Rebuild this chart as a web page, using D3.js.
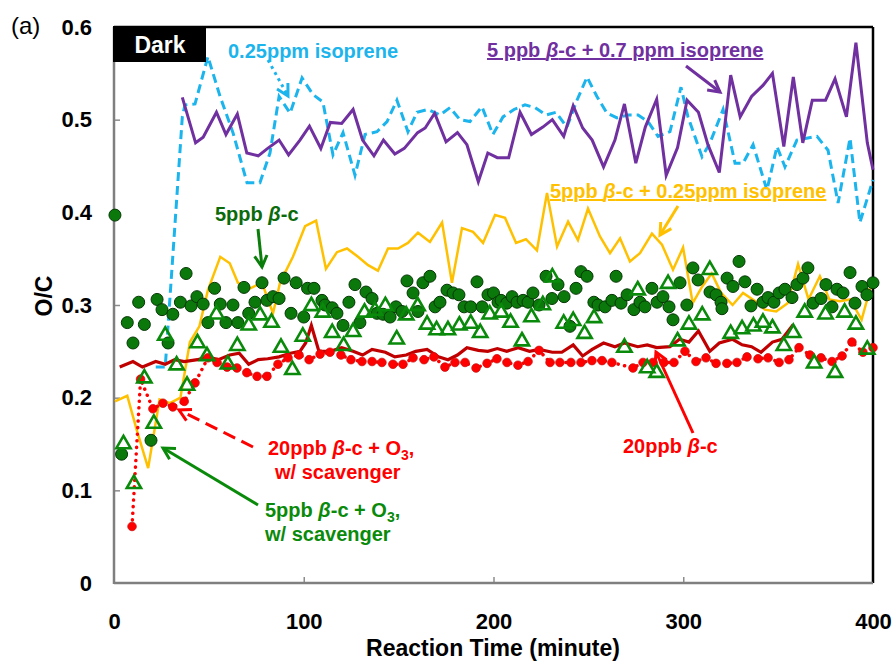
<!DOCTYPE html>
<html>
<head>
<meta charset="utf-8">
<script src="https://cdn.jsdelivr.net/npm/d3@7/dist/d3.min.js"></script>
<style>
  body { margin: 0; background: #fff; }
  text { font-family: "Liberation Sans", Arial, sans-serif; }
</style>
</head>
<body>
<div id="chart"></div>
<script>
// [minute, O/C]
const isoprene025 = [
  [22,0.233],[27,0.233],[36,0.503],[37.4,0.516],[42.7,0.517],[49.5,0.568],[55.9,0.525],[62.7,0.486],[70.1,0.432],[76.9,0.432],
  [82.2,0.464],[87,0.525],[92.8,0.507],[99.1,0.545],[104.9,0.527],[110.1,0.519],[115.4,0.462],[120.7,0.486],[127,0.440],[132.3,0.484],
  [138.6,0.487],[143.9,0.498],[149.1,0.521],[154.9,0.487],[159.7,0.508],[165.5,0.511],[171.8,0.505],[177.1,0.513],[182.3,0.500],[187.6,0.498],
  [193.9,0.514],[199.7,0.484],[205,0.503],[210.8,0.511],[216.6,0.516],[221.9,0.513],[227.7,0.505],[232.9,0.508],[238.7,0.492],[244,0.521],
  [249.3,0.546],[254.5,0.525],[259.8,0.507],[265.1,0.502],[270.9,0.505],[276.2,0.505],[281.4,0.498],[286.7,0.482],[293,0.487],[298.8,0.535],
  [302.5,0.503],[309.9,0.460],[314.1,0.475],[321,0.511],[327.3,0.453],[331.5,0.453],[336.8,0.473],[344.1,0.424],[349.4,0.471],[353.6,0.449],
  [359.9,0.478],[370.5,0.482],[376.3,0.467],[381.6,0.410],[387.9,0.480],[393.1,0.389],[400,0.435]
];
const bc5Iso07 = [
  [36,0.524],[43,0.475],[47,0.481],[54,0.508],[59,0.484],[65,0.506],[70,0.464],[76,0.461],[81,0.469],[87,0.478],
  [92,0.462],[98,0.478],[103,0.493],[109,0.469],[114,0.497],[120,0.496],[126,0.511],[131,0.478],[137,0.461],[142,0.478],
  [148,0.463],[153,0.469],[160,0.486],[164,0.491],[169,0.507],[175,0.476],[181,0.486],[186,0.473],[192,0.433],[197,0.464],
  [202,0.459],[208,0.459],[214,0.508],[220,0.484],[226,0.492],[231,0.500],[237,0.482],[242,0.515],[247,0.491],[252,0.478],
  [258,0.449],[264,0.478],[269,0.517],[275,0.453],[280,0.492],[286,0.522],[291,0.440],[297,0.470],[302,0.521],[308,0.508],
  [313,0.473],[319,0.443],[325,0.548],[330,0.503],[336,0.525],[342,0.537],[347,0.550],[353,0.471],[358,0.546],[363,0.475],
  [368,0.521],[375,0.521],[380,0.544],[386,0.503],[391,0.583],[397,0.475],[400,0.446]
];
const bc5Iso025 = [
  [0.5,0.196],[7,0.202],[12,0.165],[18,0.124],[24,0.198],[29.5,0.194],[35,0.200],[40,0.260],[45,0.277],[49.5,0.316],
  [56,0.352],[61,0.345],[65.3,0.324],[71.7,0.318],[78,0.324],[83.8,0.291],[87.5,0.324],[94.3,0.352],[100.7,0.385],[106.5,0.391],
  [111.7,0.339],[117.5,0.357],[122.8,0.361],[128.6,0.352],[133.9,0.343],[139.1,0.337],[144.4,0.361],[149.7,0.361],[154.9,0.367],[160.2,0.378],
  [166.5,0.368],[172.9,0.389],[178.1,0.324],[183.4,0.383],[189.2,0.379],[194.5,0.367],[200.8,0.397],[206.1,0.394],[211.9,0.367],[217.1,0.371],
  [222.9,0.359],[228.2,0.421],[233.5,0.363],[239.3,0.390],[244.5,0.370],[249.8,0.404],[256.1,0.374],[261.4,0.356],[266.7,0.372],[271.9,0.347],
  [277.2,0.356],[283.5,0.377],[288.8,0.365],[294.6,0.338],[299.9,0.362],[305,0.302],[310,0.320],[315,0.334],[320,0.313],[326,0.300],
  [331.5,0.313],[338,0.304],[343,0.295],[349,0.293],[355,0.302],[360.5,0.344],[366,0.306],[372,0.331],[377,0.306],[382.5,0.304],
  [388,0.306],[394,0.284],[400,0.329]
];
const bc20 = [
  [3,0.233],[10,0.239],[15,0.233],[22,0.239],[27,0.236],[32,0.241],[37,0.239],[44,0.241],[49,0.244],[55,0.241],
  [61,0.246],[66,0.248],[71,0.236],[76,0.241],[81,0.242],[87,0.244],[93,0.248],[98,0.250],[101,0.259],[104,0.278],
  [108,0.250],[114,0.250],[120,0.254],[126,0.250],[131,0.246],[136,0.252],[143,0.249],[148,0.244],[154,0.246],[159,0.250],
  [165,0.252],[171,0.244],[176,0.241],[181,0.246],[186,0.254],[192,0.251],[197,0.250],[202,0.253],[207,0.250],[213,0.254],
  [219,0.250],[224,0.252],[231,0.249],[236,0.249],[242,0.257],[247,0.245],[252,0.252],[258,0.259],[264,0.255],[269,0.259],
  [276,0.255],[281,0.257],[286,0.254],[293,0.255],[298,0.263],[303,0.260],[308,0.272],[314,0.250],[319,0.259],[326,0.263],
  [331,0.257],[336,0.255],[341,0.249],[347,0.260],[352,0.263],[358,0.279]
];
const bc20O3 = [
  [9.5,0.061],[14,0.220],[20.5,0.188],[25.8,0.194],[31,0.190],[37,0.196],[42.7,0.216],[49.5,0.243],[54.3,0.238],[59.6,0.233],
  [64.8,0.232],[70,0.227],[75.4,0.223],[80.6,0.223],[86.4,0.236],[91.7,0.243],[97.5,0.246],[102.8,0.241],[108.6,0.247],[113.8,0.249],
  [119.6,0.246],[124.9,0.241],[130.7,0.239],[136,0.239],[141.2,0.238],[147,0.236],[152.3,0.236],[157.6,0.243],[163.4,0.241],[168.6,0.244],
  [174.4,0.233],[179.7,0.238],[185,0.238],[190.8,0.232],[196.6,0.237],[201.8,0.242],[207.1,0.238],[212.9,0.235],[218.2,0.239],[224,0.251],
  [229.8,0.238],[235,0.238],[240.8,0.238],[246.1,0.238],[251.9,0.240],[257.2,0.240],[262.4,0.238],[273.5,0.232],[278.8,0.238],[284,0.238],
  [289.8,0.238],[295.1,0.238],[300.9,0.250],[306.7,0.239],[312,0.243],[317.3,0.237],[323,0.237],[328.3,0.238],[333.6,0.244],[339.4,0.242],
  [344.7,0.243],[350.5,0.238],[355.7,0.241],[361,0.254],[366.8,0.246],[372.6,0.243],[378.4,0.239],[383.7,0.245],[388.9,0.260],[394.7,0.249],
  [400,0.254]
];
const bc5 = [
  [0.5,0.397],[4,0.139],[7,0.281],[10,0.259],[13,0.303],[16,0.279],[19.5,0.154],[22.7,0.306],[25.3,0.295],[28.5,0.259],
  [31,0.290],[35,0.303],[38,0.334],[40.6,0.299],[43.7,0.309],[47,0.301],[49.5,0.281],[53,0.318],[56,0.301],[59,0.281],
  [62.7,0.300],[65.3,0.281],[68.5,0.319],[71,0.291],[74.3,0.303],[78,0.324],[80.6,0.305],[83.8,0.309],[87,0.307],[89.6,0.329],
  [93.3,0.291],[96,0.324],[100,0.287],[102,0.318],[105.4,0.318],[109.6,0.305],[111.2,0.300],[115,0.297],[117.5,0.291],[120.7,0.278],
  [123.8,0.303],[127,0.322],[129.6,0.281],[132.8,0.314],[136,0.307],[138.6,0.291],[141.8,0.290],[145.5,0.287],[148.6,0.298],[151.8,0.293],
  [154.4,0.326],[157.6,0.313],[160.2,0.293],[162.8,0.324],[166.5,0.331],[169.2,0.298],[171.8,0.303],[175.5,0.316],[178.7,0.313],[181.8,0.311],
  [184.5,0.298],[188,0.298],[191.3,0.325],[194,0.298],[197.1,0.311],[200,0.313],[202.4,0.303],[204,0.305],[207,0.302],[209.8,0.309],
  [212.4,0.303],[215.6,0.305],[218.2,0.303],[220.8,0.313],[224,0.300],[227.7,0.331],[230.8,0.307],[234,0.322],[237.2,0.309],[240.3,0.277],
  [243.5,0.318],[246.1,0.336],[249.3,0.331],[252.9,0.303],[255.1,0.300],[258.8,0.298],[262.4,0.305],[264.6,0.331],[267.2,0.302],[270.4,0.311],
  [274,0.295],[277.2,0.303],[279.8,0.298],[283.5,0.318],[286.2,0.303],[289.3,0.309],[292.5,0.298],[294.6,0.284],[298.3,0.324],[301.9,0.300],
  [305.1,0.340],[307.8,0.327],[314.1,0.314],[317.3,0.311],[319.9,0.303],[320.4,0.296],[323.1,0.329],[326.2,0.320],[329.4,0.347],[332.5,0.325],
  [335.7,0.299],[338.9,0.317],[342,0.303],[344.7,0.308],[347.8,0.303],[350.5,0.313],[353.6,0.317],[357.3,0.308],[359.9,0.322],[363.1,0.329],
  [365.7,0.340],[368.4,0.302],[372.6,0.307],[375.2,0.322],[378.4,0.298],[381,0.317],[384.2,0.313],[387.9,0.335],[390.5,0.302],[394.2,0.320],
  [396.8,0.311],[400,0.324]
];
const bc5O3 = [
  [5,0.151],[10.5,0.108],[16,0.222],[21,0.173],[27,0.268],[33,0.236],[38.5,0.214],[44,0.260],[49,0.246],[54,0.291],
  [60,0.237],[65,0.257],[71,0.279],[77,0.290],[83,0.282],[88,0.255],[94,0.231],[99.5,0.267],[104,0.300],[110,0.293],
  [115,0.271],[121,0.257],[126,0.272],[132,0.293],[137.5,0.295],[143,0.300],[149,0.264],[154,0.290],[160,0.300],[165,0.280],
  [170,0.274],[176,0.274],[182,0.279],[188,0.281],[193,0.271],[198,0.291],[204,0.293],[209,0.282],[215,0.262],[220,0.288],
  [226,0.301],[231,0.331],[237,0.281],[242,0.284],[248,0.270],[253,0.287],[269,0.255],[276,0.317],[281,0.233],[286,0.228],
  [292,0.324],[297,0.262],[303,0.280],[310,0.290],[314,0.339],[325,0.270],[331,0.275],[337,0.278],[342,0.282],[347,0.276],
  [353,0.257],[358,0.271],[364,0.293],[369,0.238],[375,0.291],[380,0.228],[385,0.293],[391,0.280],[397,0.253]
];
const xTicks = [0, 100, 200, 300, 400];
const yTicks = [0, 0.1, 0.2, 0.3, 0.4, 0.5, 0.6];

const width = 896;
const height = 664;
const plot = { left: 114, right: 873, top: 27, bottom: 583 };

const svg = d3.select("#chart")
  .append("svg")
  .attr("width", width)
  .attr("height", height);

const xScale = d3.scaleLinear().domain([0, 400]).range([plot.left, plot.right]);
const yScale = d3.scaleLinear().domain([0, 0.6]).range([plot.bottom, plot.top]);

const line = d3.line().x(d => xScale(d[0])).y(d => yScale(d[1]));

// axes
const yAxis = d3.axisLeft(yScale)
  .tickValues(yTicks)
  .tickSize(-6)
  .tickPadding(22)
  .tickFormat(d => d === 0 ? "0" : d3.format(".1f")(d));
const xAxis = d3.axisBottom(xScale)
  .tickValues(xTicks)
  .tickSize(-6)
  .tickPadding(30)
  .tickFormat(d3.format("d"));

const yg = svg.append("g").attr("transform", `translate(${plot.left},0)`).call(yAxis);
const xg = svg.append("g").attr("transform", `translate(0,${plot.bottom})`).call(xAxis);
[yg, xg].forEach(g => {
  g.select(".domain").remove();
  g.selectAll(".tick line").attr("stroke", "#8c8c8c").attr("stroke-width", 1.5);
  g.selectAll(".tick text")
    .attr("fill", "#000")
    .style("font-size", "22px")
    .style("font-weight", "bold")
    .style("font-family", "'Liberation Sans', Arial, sans-serif");
});
yg.selectAll(".tick").filter(d => d === 0 || d === 0.6).select("line").remove();
xg.selectAll(".tick").filter(d => d === 0 || d === 400).select("line").remove();

// frame
svg.append("line").attr("x1", plot.left).attr("x2", plot.right).attr("y1", plot.top).attr("y2", plot.top)
  .attr("stroke", "#000").attr("stroke-width", 2.5);
svg.append("line").attr("x1", plot.right).attr("x2", plot.right).attr("y1", plot.top).attr("y2", plot.bottom)
  .attr("stroke", "#000").attr("stroke-width", 2.5);
svg.append("line").attr("x1", plot.left).attr("x2", plot.left).attr("y1", plot.top).attr("y2", plot.bottom + 1)
  .attr("stroke", "#7f7f7f").attr("stroke-width", 2.5);
svg.append("line").attr("x1", plot.left).attr("x2", plot.right).attr("y1", plot.bottom).attr("y2", plot.bottom)
  .attr("stroke", "#7f7f7f").attr("stroke-width", 2.5);

// series
svg.append("path").datum(isoprene025).attr("d", line)
  .attr("fill", "none").attr("stroke", "#1cb4ec").attr("stroke-width", 3)
  .attr("stroke-dasharray", "9,5");
svg.append("path").datum(bc5Iso07).attr("d", line)
  .attr("fill", "none").attr("stroke", "#7030a0").attr("stroke-width", 3).attr("stroke-linejoin", "miter");
svg.append("path").datum(bc5Iso025).attr("d", line)
  .attr("fill", "none").attr("stroke", "#ffc000").attr("stroke-width", 2.5);
svg.append("path").datum(bc20).attr("d", line)
  .attr("fill", "none").attr("stroke", "#c00000").attr("stroke-width", 3.2);
svg.append("path").datum(bc20O3).attr("d", line)
  .attr("fill", "none").attr("stroke", "#ff0000").attr("stroke-width", 3.5)
  .attr("stroke-linecap", "round").attr("stroke-dasharray", "0.1,6.5");
svg.append("g").selectAll("circle").data(bc20O3).enter().append("circle")
  .attr("cx", d => xScale(d[0])).attr("cy", d => yScale(d[1])).attr("r", 4.3)
  .attr("fill", "#ff0000").attr("stroke", "#d01010").attr("stroke-width", 0.8);
svg.append("g").selectAll("circle").data(bc5).enter().append("circle")
  .attr("cx", d => xScale(d[0])).attr("cy", d => yScale(d[1])).attr("r", 6)
  .attr("fill", "#0b780b").attr("stroke", "#053805").attr("stroke-width", 1);
const tri = d3.symbol().type(d3.symbolTriangle).size(88);
svg.append("g").selectAll("path").data(bc5O3).enter().append("path")
  .attr("d", tri)
  .attr("transform", d => `translate(${xScale(d[0])},${yScale(d[1]) + 1})`)
  .attr("fill", "none").attr("stroke", "#0a8a0a").attr("stroke-width", 2.6);

// labels
function label(x, y, color, parts, underline) {
  const t = svg.append("text")
    .attr("x", x).attr("y", y)
    .attr("fill", color)
    .style("font-size", "20px")
    .style("font-weight", "bold");
  if (underline) t.attr("text-decoration", "underline");
  parts.forEach(p => {
    const s = t.append("tspan").text(p[0]);
    if (p[1] === "i") s.style("font-style", "italic");
    if (p[1] === "sub") s.attr("dy", 5).style("font-size", "14px");
    if (p[1] === "after") s.attr("dy", -5);
  });
  return t;
}
function arrow(x1, y1, x2, y2, color, dash) {
  const a = Math.atan2(y2 - y1, x2 - x1);
  const l = svg.append("line")
    .attr("x1", x1).attr("y1", y1).attr("x2", x2).attr("y2", y2)
    .attr("stroke", color).attr("stroke-width", 3);
  if (dash) l.attr("stroke-dasharray", dash);
  const h = 13, s = 0.5;
  svg.append("path")
    .attr("d", `M${x2 - h * Math.cos(a - s)},${y2 - h * Math.sin(a - s)}L${x2},${y2}L${x2 - h * Math.cos(a + s)},${y2 - h * Math.sin(a + s)}`)
    .attr("fill", "none").attr("stroke", color).attr("stroke-width", 3).attr("stroke-linejoin", "miter");
}

svg.append("rect").attr("x", plot.left - 1).attr("y", plot.top - 1).attr("width", 93).attr("height", 36).attr("fill", "#000");
svg.append("text").attr("x", 160).attr("y", 53).attr("text-anchor", "middle").attr("fill", "#fff")
  .style("font-size", "23px").style("font-weight", "bold").text("Dark");

label(228, 58, "#1cb4ec", [["0.25ppm isoprene"]]);
arrow(268, 60, 288, 96, "#1cb4ec", "3,4");

label(487, 57, "#7030a0", [["5 ppb "], ["β", "i"], ["-c + 0.7 ppm isoprene"]], true);
arrow(686, 66, 720, 92, "#7030a0");

label(550, 198, "#ffc000", [["5ppb "], ["β", "i"], ["-c + 0.25ppm isoprene"]], true);
arrow(678, 206, 660, 235, "#ffc000");

label(215, 221, "#0b6b0b", [["5ppb "], ["β", "i"], ["-c"]]);
arrow(258, 229, 262, 267, "#0b7d0b");

label(268, 455, "#ff0000", [["20ppb "], ["β", "i"], ["-c + O"], ["3", "sub"], [",", "after"]]);
label(275, 479, "#ff0000", [["w/ scavenger"]]);
arrow(253, 447, 179, 410, "#ff0000", "13,7");

label(265, 517, "#0a8a0a", [["5ppb "], ["β", "i"], ["-c + O"], ["3", "sub"], [",", "after"]]);
label(265, 541, "#0a8a0a", [["w/ scavenger"]]);
arrow(258, 505, 163, 448, "#0a8a0a");

label(623, 453, "#ff0000", [["20ppb "], ["β", "i"], ["-c"]]);
arrow(693, 433, 656, 352, "#ff0000");

// titles
svg.append("text").attr("x", 493).attr("y", 656).attr("text-anchor", "middle")
  .style("font-size", "23px").style("font-weight", "bold").text("Reaction Time (minute)");
svg.append("text").attr("transform", "translate(52,296) rotate(-90)").attr("text-anchor", "middle")
  .style("font-size", "23px").style("font-weight", "bold").text("O/C");
svg.append("text").attr("x", 11).attr("y", 34).style("font-size", "24px").text("(a)");
</script>
</body>
</html>
